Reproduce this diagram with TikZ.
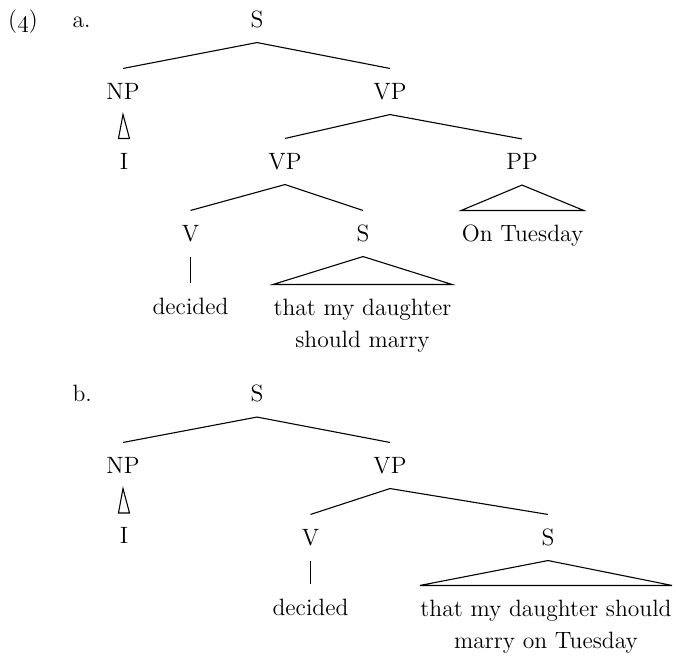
\documentclass[tikz,border=0pt]{standalone}
\begin{document}
\begin{tikzpicture}[x=0.5pt,y=-0.5pt,line width=0.55pt,
  every node/.style={font=\fontsize{11.8}{16}\selectfont},
  cat/.style={anchor=base,inner xsep=0pt,inner ysep=7.5pt,text height=7.5pt,text depth=0pt},
  thincat/.style={cat,inner xsep=0.4pt},
  leaf/.style={anchor=base,inner xsep=0pt,inner ysep=7.5pt,text height=7.5pt},
  lab/.style={anchor=base west,inner sep=0pt}]
\useasboundingbox (0,0) rectangle (676,660);

% ---------- (4) a. ----------
\node[anchor=base,inner sep=0pt] (ex) at (23,27) {(\oldstylenums{4})};
\node[lab] (la) at (72,27) {a.};

\node[cat] (Sa)   at (257,27)  {S};
\node[cat] (NPa)  at (123,99)  {NP};
\node[cat] (VPa)  at (390,99)  {VP};
\node[thincat] (Ia) at (124,169) {I};
\node[cat] (VPa2) at (285,169) {VP};
\node[cat] (PPa)  at (522,169.5) {PP};
\node[cat] (Va)   at (190.5,241) {V};
\node[cat] (Sa2)  at (363,241) {S};
\node[leaf] (Ona) at (522.5,241) {On Tuesday};
\node[leaf] (deca) at (190.5,314) {decided};
\node[leaf] (tha)  at (362.5,315) {\begin{tabular}[t]{@{}c@{}}that my daughter\\should marry\end{tabular}};

\draw (NPa.north) -- (Sa.south) -- (VPa.north);
\draw (NPa.south) -- (Ia.north west) -- (Ia.north east) -- cycle;
\draw (VPa2.north) -- (VPa.south) -- (PPa.north);
\draw (Va.north) -- (VPa2.south) -- (Sa2.north);
\draw (PPa.south) -- (Ona.north west) -- (Ona.north east) -- cycle;
\draw (Va.south) -- (deca.north);
\draw (Sa2.south) -- (tha.north west) -- (tha.north east) -- cycle;

% ---------- b. ----------
\node[lab] (lb) at (72,401.5) {b.};

\node[cat] (Sb)   at (257,401.5) {S};
\node[cat] (NPb)  at (123,473)  {NP};
\node[cat] (VPb)  at (390,473)  {VP};
\node[thincat] (Ib) at (124,543.5) {I};
\node[cat] (Vb)   at (310.5,545)  {V};
\node[cat] (Sb2)  at (548,545)  {S};
\node[leaf] (decb) at (310.5,615) {decided};
\node[leaf] (thb)  at (546,616) {\begin{tabular}[t]{@{}c@{}}that my daughter should\\marry on Tuesday\end{tabular}};

\draw (NPb.north) -- (Sb.south) -- (VPb.north);
\draw (NPb.south) -- (Ib.north west) -- (Ib.north east) -- cycle;
\draw (Vb.north) -- (VPb.south) -- (Sb2.north);
\draw (Vb.south) -- (decb.north);
\draw (Sb2.south) -- (thb.north west) -- (thb.north east) -- cycle;
\end{tikzpicture}
\end{document}
